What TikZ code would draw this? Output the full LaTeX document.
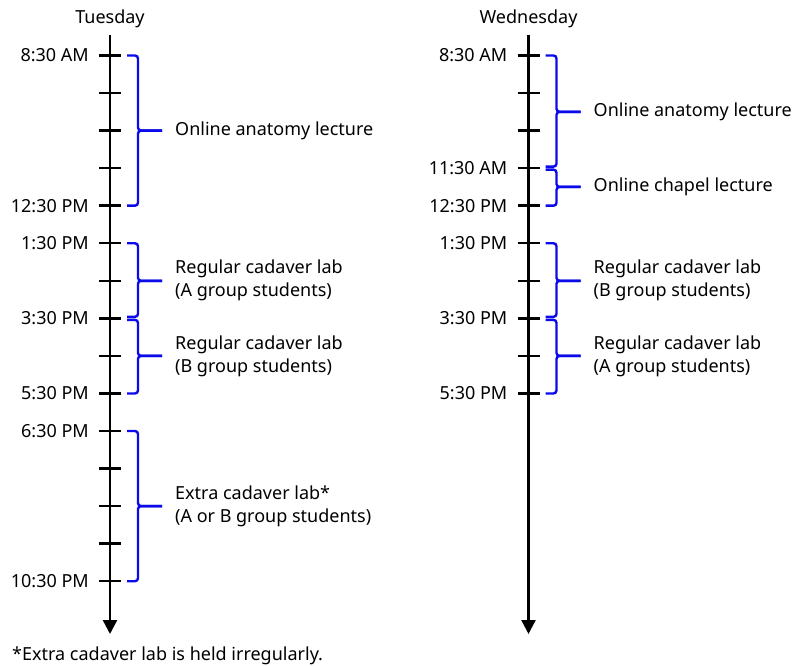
\documentclass[tikz,border=0pt]{standalone}
\usepackage{fontspec}
\setmainfont{Noto Sans}
\usetikzlibrary{arrows.meta,calc}
\definecolor{braceblue}{RGB}{10,10,235}
\tikzset{
  axisline/.style={line width=2.4pt, -{Triangle[width=14pt,length=14pt]}},
  tickline/.style={line width=2.4pt},
  bracepath/.style={draw=braceblue, line width=2.4pt, rounded corners=3pt},
  timelabel/.style={anchor=east, inner sep=0pt, font=\fontsize{18}{23}\selectfont},
  desc/.style={anchor=west, align=left, inner sep=0pt, font=\fontsize{18}{23}\selectfont},
  dayhead/.style={anchor=base, inner sep=0pt, font=\fontsize{18}{23}\selectfont},
}
\newcommand{\tlbrace}[5]{% #1 top, #2 bottom, #3 mid name, #4 top inset, #5 bottom inset
  \coordinate (#3) at ($(#1)!0.5!(#2)$);
  \draw[bracepath] ([xshift=17pt,yshift=-#4]#1) -- ([xshift=28pt,yshift=-#4]#1) -- ([xshift=28pt]#3) -- ([xshift=52pt]#3);
  \draw[bracepath] ([xshift=17pt,yshift=#5]#2) -- ([xshift=28pt,yshift=#5]#2) -- ([xshift=28pt]#3) -- ([xshift=52pt]#3);
}
\begin{document}
\begin{tikzpicture}[x=1pt,y=-1pt]
\useasboundingbox (0,0) rectangle (796,666);
\def\TX{110}
\def\WX{528.5}
% tick coordinates
\foreach \k in {0,...,14} { \coordinate (t\k) at (\TX,55.5+37.55*\k); }
\foreach \k in {0,...,9} { \coordinate (w\k) at (\WX,55.5+37.55*\k); }
% axes
\coordinate (ttop) at (\TX,35);
\coordinate (tend) at (\TX,634);
\coordinate (wtop) at (\WX,35);
\coordinate (wend) at (\WX,634);
\draw[axisline] (ttop) -- (tend);
\draw[axisline] (wtop) -- (wend);
\foreach \k in {0,...,14} { \draw[tickline] ([xshift=-11pt]t\k) -- ([xshift=11pt]t\k); }
\foreach \k in {0,...,9} { \draw[tickline] ([xshift=-11pt]w\k) -- ([xshift=11pt]w\k); }
% headers
\node[dayhead] (tue) at (\TX,24) {Tuesday};
\node[dayhead] (wed) at (\WX,24) {Wednesday};
% Tuesday labels
\node[timelabel] (lt0) at ([xshift=-21pt]t0) {8:30 AM};
\node[timelabel] (lt4) at ([xshift=-21pt]t4) {12:30 PM};
\node[timelabel] (lt5) at ([xshift=-21pt]t5) {1:30 PM};
\node[timelabel] (lt7) at ([xshift=-21pt]t7) {3:30 PM};
\node[timelabel] (lt9) at ([xshift=-21pt]t9) {5:30 PM};
\node[timelabel] (lt10) at ([xshift=-21pt]t10) {6:30 PM};
\node[timelabel] (lt14) at ([xshift=-21pt]t14) {10:30 PM};
% Wednesday labels
\node[timelabel] (lw0) at ([xshift=-21pt]w0) {8:30 AM};
\node[timelabel] (lw3) at ([xshift=-21pt]w3) {11:30 AM};
\node[timelabel] (lw4) at ([xshift=-21pt]w4) {12:30 PM};
\node[timelabel] (lw5) at ([xshift=-21pt]w5) {1:30 PM};
\node[timelabel] (lw7) at ([xshift=-21pt]w7) {3:30 PM};
\node[timelabel] (lw9) at ([xshift=-21pt]w9) {5:30 PM};
% Tuesday braces
\tlbrace{t0}{t4}{tm1}{0pt}{0pt}
\tlbrace{t5}{t7}{tm2}{0pt}{1.5pt}
\tlbrace{t7}{t9}{tm3}{1.5pt}{0pt}
\tlbrace{t10}{t14}{tm4}{0pt}{0pt}
\node[desc] (td1) at ([xshift=65pt]tm1) {Online anatomy lecture};
\node[desc] (td2) at ([xshift=65pt]tm2) {Regular cadaver lab\\(A group students)};
\node[desc] (td3) at ([xshift=65pt]tm3) {Regular cadaver lab\\(B group students)};
\node[desc] (td4) at ([xshift=65pt]tm4) {Extra cadaver lab*\\(A or B group students)};
% Wednesday braces
\tlbrace{w0}{w3}{wm1}{0pt}{1.5pt}
\tlbrace{w3}{w4}{wm2}{1.5pt}{0pt}
\tlbrace{w5}{w7}{wm3}{0pt}{1.5pt}
\tlbrace{w7}{w9}{wm4}{1.5pt}{0pt}
\node[desc] (wd1) at ([xshift=65pt]wm1) {Online anatomy lecture};
\node[desc] (wd2) at ([xshift=65pt]wm2) {Online chapel lecture};
\node[desc] (wd3) at ([xshift=65pt]wm3) {Regular cadaver lab\\(B group students)};
\node[desc] (wd4) at ([xshift=65pt]wm4) {Regular cadaver lab\\(A group students)};
% footnote
\node[anchor=base west, inner sep=0pt, font=\fontsize{18}{23}\selectfont] (foot) at (12,660) {*Extra cadaver lab is held irregularly.};
\end{tikzpicture}
\end{document}
